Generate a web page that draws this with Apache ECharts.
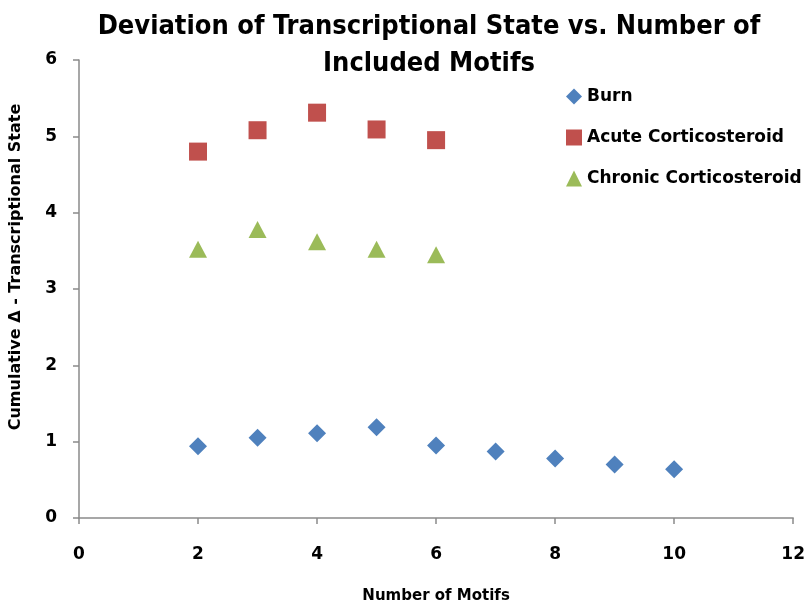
<!DOCTYPE html>
<html>
<head>
<meta charset="utf-8">
<script src="https://cdn.jsdelivr.net/npm/echarts@6/dist/echarts.min.js"></script>
<style>html,body{margin:0;padding:0;background:#fff}#chart{width:808px;height:609px}</style>
</head>
<body>
<div id="chart"></div>
<script>
const seriesNames = ['Burn', 'Acute Corticosteroid', 'Chronic Corticosteroid'];
const burnX = [2, 3, 4, 5, 6, 7, 8, 9, 10];
const burnY = [0.94, 1.05, 1.11, 1.19, 0.95, 0.87, 0.78, 0.70, 0.64];
const acuteX = [2, 3, 4, 5, 6];
const acuteY = [4.80, 5.08, 5.31, 5.09, 4.95];
const chronicX = [2, 3, 4, 5, 6];
const chronicY = [3.52, 3.78, 3.62, 3.52, 3.45];
const xTicks = [0, 2, 4, 6, 8, 10, 12];
const yTicks = [0, 1, 2, 3, 4, 5, 6];

const pair = (xs, ys) => xs.map((x, i) => [x, ys[i]]);
const FONT = 'DejaVu Sans';
const NARROW = "'Liberation Sans Narrow', 'DejaVu Sans Condensed', sans-serif";
const chart = echarts.init(document.getElementById('chart'));
chart.setOption({
  animation: false,
  backgroundColor: '#fff',
  title: {
    text: 'Deviation of Transcriptional State vs. Number of\nIncluded Motifs',
    left: 424, top: 3, textAlign: 'center',
    textStyle: { fontFamily: NARROW, fontWeight: 'bold', fontSize: 27, color: '#000', lineHeight: 37 }
  },
  legend: {
    orient: 'vertical', left: 561, top: 83, itemGap: 24, itemWidth: 16, itemHeight: 16,
    data: seriesNames,
    textStyle: { fontFamily: FONT, fontWeight: 'bold', fontSize: 17, color: '#000' }
  },
  grid: { left: 77, right: 13, top: 60, bottom: 90 },
  xAxis: {
    type: 'value', min: xTicks[0], max: xTicks[xTicks.length - 1], interval: 2,
    name: 'Number of Motifs', nameLocation: 'middle', nameGap: 71,
    nameTextStyle: { fontFamily: FONT, fontWeight: 'bold', fontSize: 15, color: '#000' },
    axisLine: { lineStyle: { color: '#8a8a8a', width: 1.5 } },
    axisTick: { show: true, length: 6, lineStyle: { color: '#8a8a8a', width: 1.5 } },
    axisLabel: { margin: 28, fontFamily: FONT, fontWeight: 'bold', fontSize: 17, color: '#000' },
    splitLine: { show: false }
  },
  yAxis: {
    type: 'value', min: yTicks[0], max: yTicks[yTicks.length - 1], interval: 1,
    name: 'Cumulative Δ - Transcriptional State', nameLocation: 'middle', nameGap: 55,
    nameTextStyle: { fontFamily: FONT, fontWeight: 'bold', fontSize: 16, color: '#000', padding: [0, 0, 0, 44] },
    axisLine: { show: true, lineStyle: { color: '#8a8a8a', width: 1.5 } },
    axisTick: { show: true, length: 6, lineStyle: { color: '#8a8a8a', width: 1.5 } },
    axisLabel: { margin: 22, fontFamily: FONT, fontWeight: 'bold', fontSize: 17, color: '#000' },
    splitLine: { show: false }
  },
  series: [
    { name: seriesNames[0], type: 'scatter', symbol: 'diamond', symbolSize: 18,
      itemStyle: { color: '#4F81BD', opacity: 1 }, data: pair(burnX, burnY) },
    { name: seriesNames[1], type: 'scatter', symbol: 'rect', symbolSize: 18,
      itemStyle: { color: '#C0504D', opacity: 1 }, data: pair(acuteX, acuteY) },
    { name: seriesNames[2], type: 'scatter', symbol: 'triangle', symbolSize: [18, 17],
      itemStyle: { color: '#9BBB59', opacity: 1 }, data: pair(chronicX, chronicY) }
  ]
});
</script>
</body>
</html>
